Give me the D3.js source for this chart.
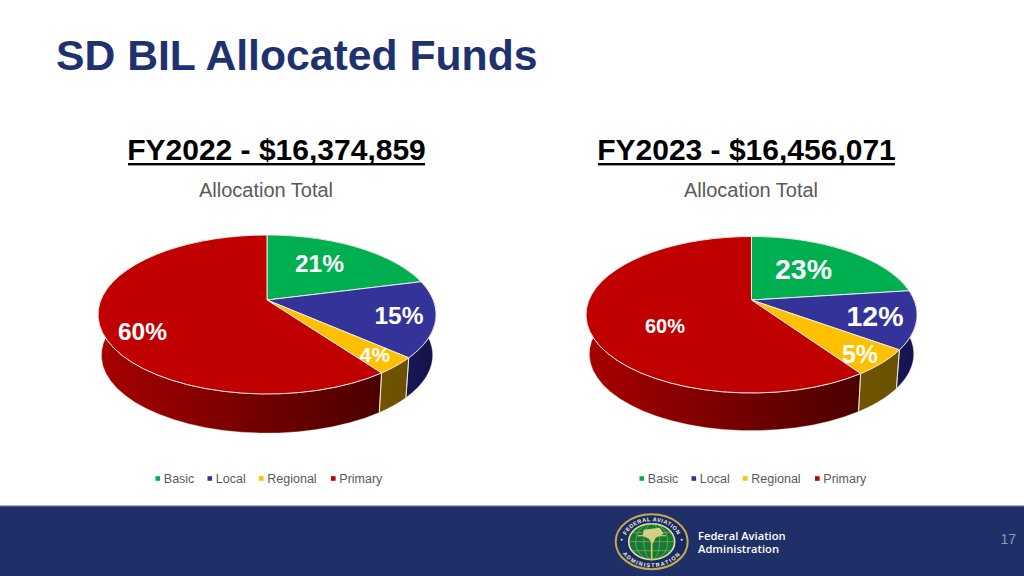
<!DOCTYPE html>
<html><head><meta charset="utf-8">
<script src="https://cdn.jsdelivr.net/npm/d3@7/dist/d3.min.js"></script>
<style>html,body{margin:0;padding:0;background:#fff}svg{display:block}</style>
</head><body><svg id="c" width="1024" height="576"></svg>
<script>
const categories = ["Basic","Local","Regional","Primary"];
const colors = ["#00b050","#333399","#ffc000","#c00000"];
const wallFrom = ["#007a38","#171755","#715400","#a80000"];
const wallTo = ["#00501f","#12124a","#695000","#4a0000"];
const valuesFY22 = [21,15.5,3.5,60];
const valuesFY23 = [23,12,5.4,59.6];
const labelsFY22 = ["21%","15%","4%","60%"];
const labelsFY23 = ["23%","12%","5%","60%"];
const titleText = "SD BIL Allocated Funds";
const headFY22 = "FY2022 - $16,374,859";
const headFY23 = "FY2023 - $16,456,071";
const subText = "Allocation Total";

const svg = d3.select("#c");
const defs = svg.append("defs");
const FF = "'Liberation Sans',Arial,sans-serif";

svg.append("text").attr("x",56).attr("y",70).attr("font-family",FF).attr("font-weight",700)
  .attr("font-size",42.7).attr("fill","#1f3270").text(titleText);

function pie3d(cfg){
  const g = svg.append("g");
  const {cx,cy,back,front,rx,depth,s,values,labels,labelCfg,id} = cfg;
  const p = (front-back)/(front+back), B = back*(1+p), A = rx*Math.sqrt(1-p*p);
  const proj = (t,lower)=>{
    const u=Math.sin(t), v=Math.cos(t), w=1+p*v, k=lower?s:1;
    return [cx+k*A*u/w, cy+(lower?depth:0)-k*B*v/w];
  };
  const arcs = d3.pie().sort(null).value(d=>d).startAngle(0).endAngle(2*Math.PI)(values);
  const line = d3.line();
  const sample = (a,b,lower)=>d3.range(0,41).map(i=>proj(a+(b-a)*i/40,lower));

  // side walls: every slice, the top surface then covers the back part
  arcs.forEach((d,i)=>{
    const a=d.startAngle, b=d.endAngle;
    const gid=`w${id}${i}`;
    const xs=sample(Math.max(a,Math.PI*0.5),Math.min(b,Math.PI*1.5),false).map(q=>q[0]);
    defs.append("linearGradient").attr("id",gid).attr("gradientUnits","userSpaceOnUse")
      .attr("x1",d3.max(xs)).attr("x2",d3.min(xs)).attr("y1",0).attr("y2",0)
      .selectAll("stop").data([0,1]).join("stop")
      .attr("offset",v=>v).attr("stop-color",v=>v?wallFrom[i]:wallTo[i]);
    const pts=sample(a,b,false).concat(sample(a,b,true).reverse());
    g.append("path").attr("d",line(pts)+"Z").attr("fill",`url(#${gid})`)
      .attr("stroke","#f4e6d8").attr("stroke-width",0.7).attr("stroke-opacity",0.5);
  });
  // wall vertical edges
  arcs.slice(0,3).forEach(d=>{
    const t=d.endAngle;
    if(t<Math.PI*0.6) return;
    g.append("path").attr("d",line([proj(t,false),proj(t,true)]))
      .attr("stroke","#f2ecd6").attr("stroke-width",1).attr("fill","none");
  });
  // top slices
  arcs.forEach((d,i)=>{
    const pts=[[cx,cy]].concat(sample(d.startAngle,d.endAngle,false));
    g.append("path").attr("d",line(pts)+"Z").attr("fill",colors[i])
      .attr("stroke","#f0e8e8").attr("stroke-width",1).attr("stroke-linejoin","round");
  });
  // labels
  labels.forEach((t,i)=>{
    const c=labelCfg[i];
    g.append("text").attr("x",c[0]).attr("y",c[1]).attr("text-anchor","middle")
      .attr("font-family",FF).attr("font-weight",700).attr("font-size",c[2])
      .attr("fill","#fff").text(t);
  });
}

pie3d({id:"a",cx:267,cy:300,back:65,front:94,rx:169,depth:41,s:0.98,values:valuesFY22,labels:labelsFY22,
  labelCfg:[[319.5,272,24.5],[399,324,24.5],[375,362,21],[142.5,340,24.5]]});
pie3d({id:"b",cx:751.5,cy:300,back:63.5,front:93,rx:165.5,depth:39.5,s:0.98,values:valuesFY23,labels:labelsFY23,
  labelCfg:[[803.5,279,28.5],[875,326,28.5],[860,363,25],[665,333,20]]});

// headers
[[276.5,headFY22,266],[746.5,headFY23,751]].forEach(h=>{
  svg.append("text").attr("x",h[0]).attr("y",160).attr("text-anchor","middle").attr("font-family",FF)
    .attr("font-weight",700).attr("font-size",30).attr("fill","#000").text(h[1]);
  const w=297;
  svg.append("rect").attr("x",h[0]-w/2).attr("y",163).attr("width",w).attr("height",2.4).attr("fill","#000");
  svg.append("text").attr("x",h[2]).attr("y",197).attr("text-anchor","middle").attr("font-family",FF)
    .attr("font-size",20).attr("fill","#595959").text(subText);
});

// legends
const legendX = [155.5,207.5,259,331];
[0,484].forEach(dx=>{
  categories.forEach((c,i)=>{
    svg.append("rect").attr("x",dx+legendX[i]).attr("y",476.2).attr("width",4.6).attr("height",4.6).attr("fill",colors[i]);
    svg.append("text").attr("x",dx+legendX[i]+8.3).attr("y",483).attr("font-family",FF)
      .attr("font-size",12.5).attr("fill","#595959").text(c);
  });
});

// footer
svg.append("rect").attr("x",0).attr("y",506).attr("width",1024).attr("height",70).attr("fill","#1f2f68");
svg.append("rect").attr("x",0).attr("y",505.5).attr("width",1024).attr("height",1.2).attr("fill","#5a6a98");
svg.append("text").attr("x",698).attr("y",540).attr("font-family","'Open Sans',sans-serif").attr("font-weight",600)
  .attr("font-size",11.2).attr("fill","#fff").text("Federal Aviation");
svg.append("text").attr("x",698).attr("y",553).attr("font-family","'Open Sans',sans-serif").attr("font-weight",600)
  .attr("font-size",11.2).attr("fill","#fff").text("Administration");
svg.append("text").attr("x",1016).attr("y",544).attr("text-anchor","end").attr("font-family",FF)
  .attr("font-size",14).attr("fill","#8f97b5").text("17");

// seal
const L={x:651.7,y:541.7};
const seal=svg.append("g").attr("transform",`translate(${L.x},${L.y})`);
seal.append("ellipse").attr("rx",36).attr("ry",27.5).attr("fill","#1a2a62").attr("stroke","#c9a94e").attr("stroke-width",2);
seal.append("ellipse").attr("rx",23).attr("ry",18).attr("fill","#157a32").attr("stroke","#e6dcb0").attr("stroke-width",1.6);
[-9,0,9].forEach(y=>seal.append("path").attr("d",`M${-22*Math.sqrt(1-y*y/324)},${y}H${22*Math.sqrt(1-y*y/324)}`).attr("stroke","#a9c77e").attr("stroke-width",0.5));
[8,16].forEach(r=>seal.append("ellipse").attr("rx",r).attr("ry",18).attr("fill","none").attr("stroke","#a9c77e").attr("stroke-width",0.5));
seal.append("path").attr("d","M-8,-12 L8,-14 L12,-8 L4,-4 L1,2 L-3,-3 L-9,-6Z").attr("fill","#cfd08f");
seal.append("path").attr("d","M0,-6 L0,18").attr("stroke","#e8c766").attr("stroke-width",1.6);
seal.append("path").attr("d","M-14,-6 L14,-6").attr("stroke","#e8c766").attr("stroke-width",1.2);
[-30,30].forEach(x=>seal.append("circle").attr("cx",x).attr("cy",-2).attr("r",1).attr("fill","#f4f0dc"));
defs.append("path").attr("id","sealTop").attr("d","M-27,0 A27,20.5 0 0 1 27,0");
defs.append("path").attr("id","sealBot").attr("d","M-33,0 A33,25.5 0 0 0 33,0");
seal.append("text").attr("font-family",FF).attr("font-weight",700).attr("font-size",5.6).attr("fill","#f4f0dc").attr("letter-spacing",0.5)
  .append("textPath").attr("href","#sealTop").attr("startOffset","50%").attr("text-anchor","middle").text("FEDERAL AVIATION");
seal.append("text").attr("font-family",FF).attr("font-weight",700).attr("font-size",5.6).attr("fill","#f4f0dc").attr("letter-spacing",1.3)
  .append("textPath").attr("href","#sealBot").attr("startOffset","50%").attr("text-anchor","middle").text("ADMINISTRATION");
</script></body></html>
